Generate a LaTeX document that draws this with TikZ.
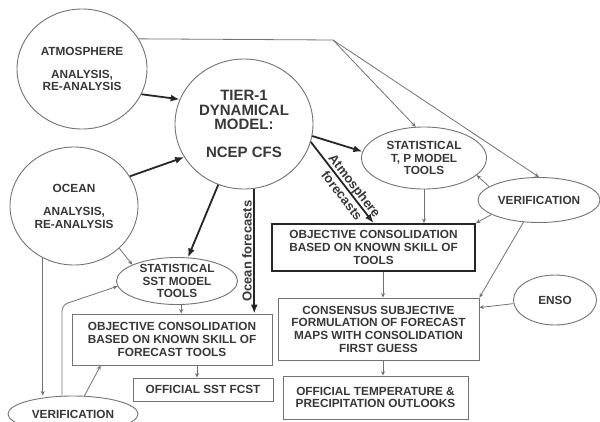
\documentclass[tikz,border=0pt]{standalone}
\usepackage{fontspec}
\setmainfont{Liberation Sans}
\usetikzlibrary{shapes.geometric,arrows.meta}

\definecolor{ink}{gray}{0.22}
\definecolor{rim}{gray}{0.45}
\definecolor{heavyline}{gray}{0.15}

\tikzset{
  blob/.style={ellipse,draw=rim,line width=0.9pt,inner sep=0pt,align=center,text=ink,
    font=\bfseries\fontsize{11.8}{12.5}\selectfont},
  panel/.style={rectangle,draw=rim,line width=0.9pt,inner sep=0pt,align=center,text=ink,
    font=\bfseries\fontsize{11.8}{12.7}\selectfont},
  keypanel/.style={panel,draw=heavyline,line width=1.8pt},
  heavy/.style={draw=heavyline,line width=1.8pt,-{Latex[length=9pt,width=7pt]}},
  lite/.style={draw=rim,line width=0.8pt,-{Stealth[length=4.5pt,width=4pt]}},
  slanted/.style={font=\bfseries\fontsize{13}{16}\selectfont,text=ink}
}

\begin{document}
\begin{tikzpicture}[x=1pt,y=-1pt]
\useasboundingbox[fill=white] (0,0) rectangle (600,421);

% analysis circles and the model
\node[blob,minimum width=130pt,minimum height=120pt] (atm) at (82,69) {ATMOSPHERE\\[10pt]ANALYSIS,\\RE-ANALYSIS};
\node[blob,minimum width=128pt,minimum height=118pt] (ocean) at (74,206) {OCEAN\\[11pt]ANALYSIS,\\RE-ANALYSIS};
\node[blob,minimum width=138pt,minimum height=130pt,font=\bfseries\fontsize{15}{14.5}\selectfont] (tier) at (244,124) {TIER-1\\DYNAMICAL\\MODEL:\\[13pt]NCEP CFS};

% tools, verification, ENSO
\node[blob,minimum width=125pt,minimum height=62pt] (tp) at (424,158) {STATISTICAL\\T, P MODEL\\TOOLS};
\node[blob,minimum width=122pt,minimum height=45pt] (verR) at (539,200) {VERIFICATION};
\node[blob,minimum width=121pt,minimum height=47pt,inner ysep=-3pt] (sst) at (177,281) {STATISTICAL\\SST MODEL\\TOOLS};
\node[blob,minimum width=130pt,minimum height=36pt] (verL) at (73,414) {VERIFICATION};
\node[blob,minimum width=83pt,minimum height=50pt] (enso) at (555,300) {ENSO};

% boxes
\node[keypanel,minimum width=203pt,minimum height=47pt] (objR) at (373.5,247.5) {OBJECTIVE CONSOLIDATION\\BASED ON KNOWN SKILL OF\\TOOLS};
\node[panel,minimum width=201pt,minimum height=62pt] (cons) at (378.5,329) {CONSENSUS SUBJECTIVE\\FORMULATION OF FORECAST\\MAPS WITH CONSOLIDATION\\FIRST GUESS};
\node[panel,minimum width=185pt,minimum height=43pt] (offT) at (375.5,397.5) {OFFICIAL TEMPERATURE \&\\PRECIPITATION OUTLOOKS};
\node[panel,minimum width=200pt,minimum height=51pt] (objL) at (172,339.5) {OBJECTIVE CONSOLIDATION\\BASED ON KNOWN SKILL OF\\FORECAST TOOLS};
\node[panel,minimum width=140pt,minimum height=23pt] (sstF) at (203,389.5) {OFFICIAL SST FCST};

\coordinate (hub) at (333,40);   % split of the top line
\coordinate (spine) at (383,0);  % right column links
\coordinate (bend) at (62,305);  % left verification link

% model arrows
\draw[heavy] (atm.-23) -- (tier.159);
\draw[heavy] (ocean.28) -- (tier.209);
\draw[heavy] (tier.-10) -- (tp.174);
\draw[heavy] (tier.247) -- (sst.65);
\draw[heavy] (tier.-81) -- (tier.-81 |- objL.north) node[midway,anchor=south,rotate=90,slanted,inner sep=1.5pt] {Ocean forecasts};
\draw[heavy] (tier.-15) -- (objR.north) node[pos=0.6,sloped,slanted,align=center,inner sep=1pt] {Atmosphere\\forecasts};

% thin links
\draw[lite] (atm.28) -- (hub) -- (tp.105);
\draw[lite] (hub) -- (verR.north);
\draw[lite] (verR.165) -- (tp.-18);
\draw[lite] (verR.197) -- (objR.north east);
\draw[lite] (verR.235) -- (cons.north east);
\draw[lite] (enso.185) -- (cons.12);
\draw[lite] (tp.south) -- (tp.south |- objR.north);
\draw[lite] (spine |- objR.south) -- (spine |- cons.north);
\draw[lite] (spine |- cons.south) -- (spine |- offT.north);
\draw[lite] (ocean.-43) -- (sst.160);
\draw[lite] (ocean.-121) -- (ocean.-121 |- verL.north);
\draw[lite,rounded corners=6pt] (bend |- verL.north) -- (bend) -- (sst.185);
\draw[lite] (verL.58) -- (objL.200);
\draw[lite] (sst.-80) -- (sst.-80 |- objL.north);
\draw[lite] ([xshift=-6pt]sstF.north |- objL.south) -- ([xshift=-6pt]sstF.north);
\end{tikzpicture}
\end{document}
